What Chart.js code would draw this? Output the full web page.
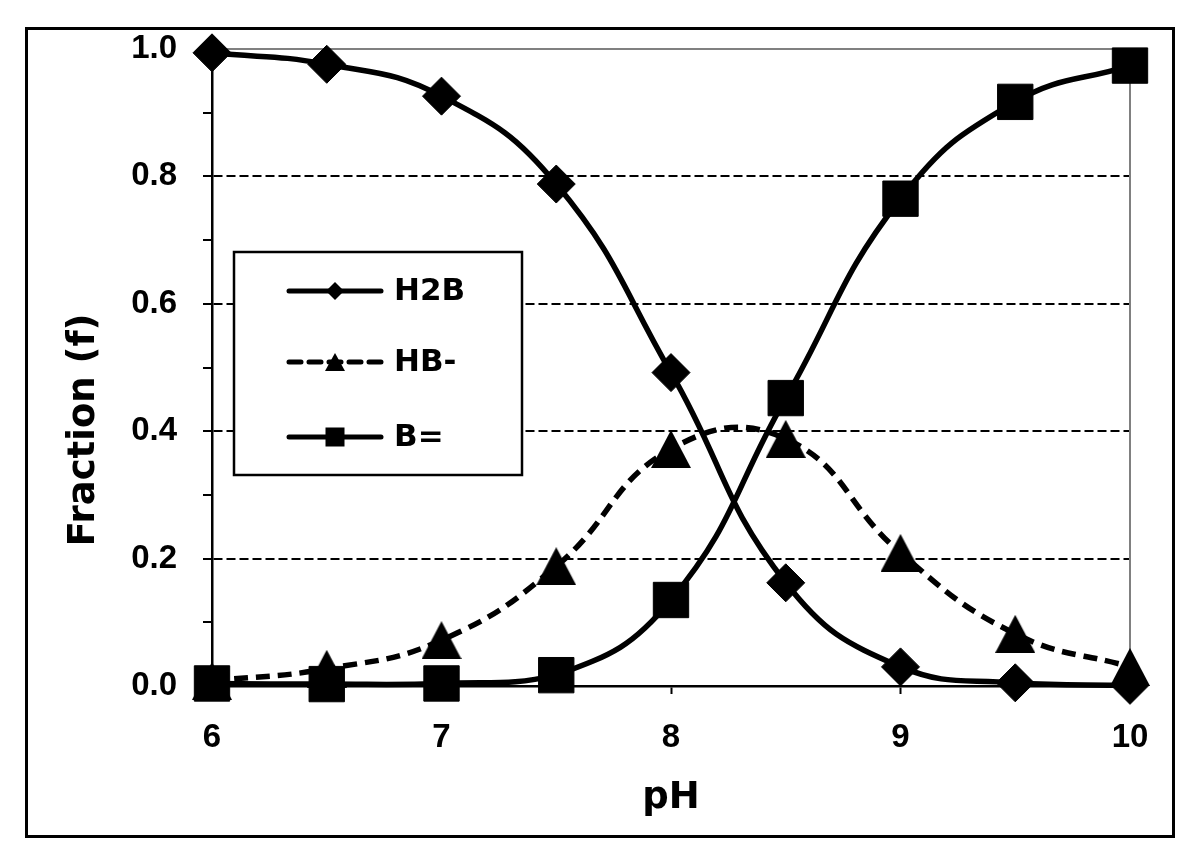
<!DOCTYPE html>
<html><head><meta charset="utf-8">
<script src="https://cdn.jsdelivr.net/npm/chart.js@4/dist/chart.umd.min.js"></script>
<style>html,body{margin:0;padding:0;background:#fff}canvas{display:block}</style>
</head><body>
<canvas id="c" width="1200" height="862"></canvas>
<script>
// ---- data ----
const pH = [6, 6.5, 7, 7.5, 8, 8.5, 9, 9.5, 10];
const H2B = [0.994, 0.976, 0.926, 0.788, 0.492, 0.162, 0.030, 0.005, 0.001];
const HBminus = [0.008, 0.027, 0.072, 0.188, 0.372, 0.388, 0.209, 0.082, 0.030];
const Beq = [0.004, 0.003, 0.004, 0.017, 0.135, 0.452, 0.765, 0.917, 0.974];
const seriesNames = ['H2B', 'HB-', 'B='];
const xTickValues = [6, 7, 8, 9, 10];
const yTickLabels = ['0.0', '0.2', '0.4', '0.6', '0.8', '1.0'];
const xTitle = 'pH';
const yTitle = 'Fraction (f)';

function triCanvas(w, h) {
  const c = document.createElement('canvas'); c.width = w; c.height = h;
  const g = c.getContext('2d'); g.fillStyle = '#000';
  g.beginPath(); g.moveTo(w / 2, 0); g.lineTo(w, h); g.lineTo(0, h); g.closePath(); g.fill();
  return c;
}
const triBig = triCanvas(40, 38);
const triSmall = triCanvas(20, 18);

const toPts = arr => pH.map((x, i) => ({x: x, y: arr[i]}));

const LW = 5.5;
const DASH = [14, 8];
const datasets = [
  {label: seriesNames[0], data: toPts(H2B), borderColor: '#000', backgroundColor: '#000', borderWidth: LW,
   pointStyle: 'rectRot', pointRadius: 19, pointBorderWidth: 1, order: 1, tension: 0.45, clip: false},
  {label: seriesNames[1], data: toPts(HBminus), borderColor: '#000', backgroundColor: '#000', borderWidth: LW,
   borderDash: DASH, pointStyle: triBig, pointRadius: 20, order: 3, tension: 0.45, clip: false},
  {label: seriesNames[2], data: toPts(Beq), borderColor: '#000', backgroundColor: '#000', borderWidth: LW,
   pointStyle: 'rect', pointRadius: 25, pointBorderWidth: 1, order: 2, tension: 0.45, clip: false}
];

const frame = {
  id: 'frame',
  beforeDraw(chart) {
    const ctx = chart.ctx; ctx.save();
    ctx.fillStyle = '#fff'; ctx.fillRect(0, 0, chart.width, chart.height);
    ctx.strokeStyle = '#000'; ctx.lineWidth = 3;
    ctx.strokeRect(26.5, 28.5, 1147, 808);
    ctx.restore();
  },
  afterDraw(chart) {
    const ctx = chart.ctx; ctx.save();
    ctx.translate(84, 430); ctx.rotate(-Math.PI / 2);
    ctx.font = 'bold 37px "DejaVu Sans"'; ctx.fillStyle = '#000';
    ctx.textAlign = 'center'; ctx.textBaseline = 'middle';
    ctx.fillText(yTitle, 0, 0);
    ctx.restore();
  }
};

const legendBox = {
  id: 'legendBox',
  afterDatasetsDraw(chart) {
    const ctx = chart.ctx; ctx.save();
    const L = 234, T = 252, R = 522, B = 475;
    ctx.fillStyle = '#fff'; ctx.fillRect(L, T, R - L, B - T);
    ctx.strokeStyle = '#000'; ctx.lineWidth = 2.5; ctx.strokeRect(L, T, R - L, B - T);
    const rows = [291, 362, 437];
    chart.data.datasets.forEach((ds, i) => {
      const y = rows[i];
      ctx.strokeStyle = '#000'; ctx.lineWidth = 5; ctx.lineCap = 'round';
      ctx.setLineDash(ds.borderDash ? [12, 8] : []);
      ctx.beginPath(); ctx.moveTo(289, y); ctx.lineTo(381, y); ctx.stroke();
      ctx.setLineDash([]);
      ctx.fillStyle = '#000';
      const mx = 335;
      if (i === 0) {
        ctx.beginPath(); ctx.moveTo(mx, y - 9); ctx.lineTo(mx + 9, y); ctx.lineTo(mx, y + 9); ctx.lineTo(mx - 9, y); ctx.closePath(); ctx.fill();
      } else if (i === 1) {
        ctx.drawImage(triSmall, mx - 10, y - 9);
      } else {
        ctx.fillRect(mx - 9.5, y - 9.5, 19, 19);
      }
      ctx.font = 'bold 31px "DejaVu Sans"'; ctx.textAlign = 'left'; ctx.textBaseline = 'middle';
      ctx.fillText(ds.label, 394, y + 1);
    });
    ctx.restore();
  }
};

new Chart(document.getElementById('c'), {
  type: 'line',
  data: {datasets: datasets},
  options: {
    responsive: false, animation: false, devicePixelRatio: 1,
    layout: {padding: 0},
    plugins: {legend: {display: false}, tooltip: {enabled: false}},
    scales: {
      x: {
        type: 'linear', position: 'bottom', min: 6, max: 10,
        afterFit: s => { s.height = 176; },
        ticks: {stepSize: 1, autoSkip: false, padding: 24, color: '#000',
          font: {family: '"Liberation Sans", Arial', weight: 'bold', size: 33},
          callback: v => xTickValues.includes(v) ? String(v) : ''},
        grid: {drawOnChartArea: false, drawTicks: true, tickLength: 8, tickColor: '#000', tickWidth: 2},
        border: {color: '#000', width: 2.5},
        title: {display: true, text: xTitle, color: '#000', padding: {top: 0, bottom: 41},
          font: {family: '"DejaVu Sans"', weight: 'bold', size: 37}}
      },
      y: {
        type: 'linear', position: 'left', min: 0, max: 1,
        afterFit: s => { s.width = 212; },
        ticks: {stepSize: 0.1, autoSkip: false, padding: 26, color: '#000',
          font: {family: '"Liberation Sans", Arial', weight: 'bold', size: 33},
          callback: (v, i) => (i % 2 === 0 ? yTickLabels[i / 2] : '')},
        grid: {drawOnChartArea: true, drawTicks: true, tickLength: 9, tickWidth: 2, lineWidth: 2,
          tickColor: '#000',
          color: c => { const k = Math.round(c.tick.value * 10); return (k % 2 === 0 && k > 0 && k < 10) ? '#000' : 'rgba(0,0,0,0)'; }},
        border: {color: '#000', width: 2.5, dash: [9, 4]}
      },
      x2: {
        type: 'linear', position: 'top', min: 6, max: 10, display: true,
        afterFit: s => { s.height = 49; },
        ticks: {display: false}, grid: {display: false},
        border: {color: '#808080', width: 2}
      },
      y2: {
        type: 'linear', position: 'right', min: 0, max: 1, display: true,
        afterFit: s => { s.width = 70; },
        ticks: {display: false}, grid: {display: false},
        border: {color: '#808080', width: 2}
      }
    }
  },
  plugins: [frame, legendBox]
});
</script>
</body></html>
